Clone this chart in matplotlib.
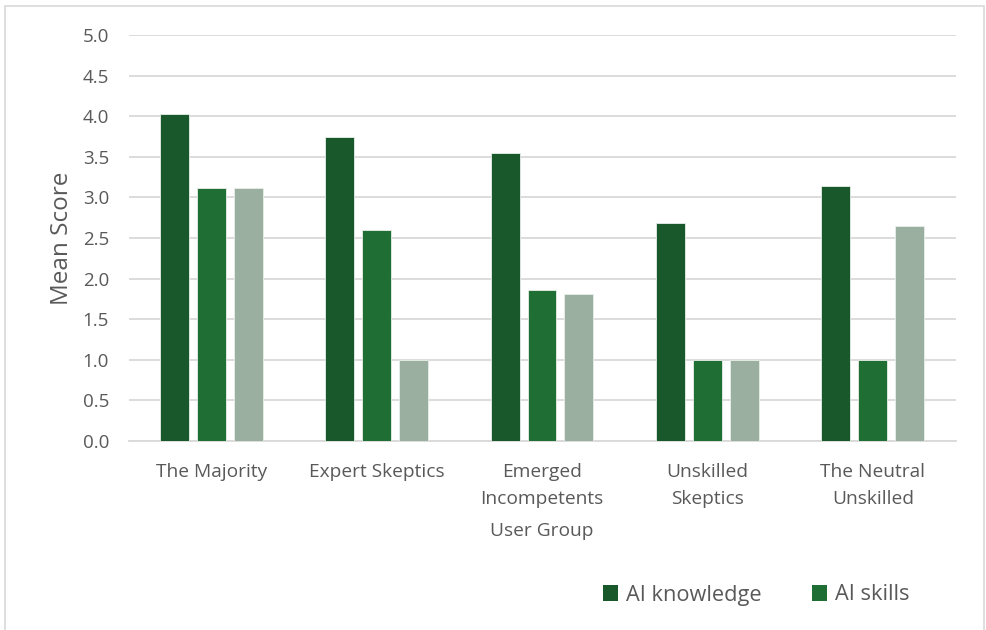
import matplotlib
matplotlib.use("Agg")
import matplotlib.pyplot as plt
import numpy as np
from matplotlib.patches import Rectangle, Patch

plt.rcParams['font.family'] = ['Open Sans', 'DejaVu Sans']

groups = ["The Majority", "Expert Skeptics", "Emerged\nIncompetents",
          "Unskilled\nSkeptics", "The Neutral\nUnskilled"]
ai_knowledge = [4.03, 3.74, 3.55, 2.69, 3.14]
ai_skills = [3.11, 2.60, 1.86, 1.00, 1.00]
series3 = [3.12, 1.00, 1.81, 1.00, 2.65]

colors = ["#18582A", "#1F6E34", "#9BAFA0"]
text_gray = "#595959"

fig = plt.figure(figsize=(9.86, 6.3), dpi=100)
ax = fig.add_axes([128.5 / 986, 1 - 441 / 630, 827 / 986, 406 / 630])

x = np.arange(len(groups))
w = 0.175
step = 0.223
for i, (vals, c) in enumerate(zip([ai_knowledge, ai_skills, series3], colors)):
    ax.bar(x + (i - 1) * step, vals, width=w, color=c, edgecolor="#e8efe9",
           linewidth=0.6, zorder=3)

ax.set_xlim(-0.5, len(groups) - 0.5)
ax.set_ylim(0, 5)
ax.set_yticks(np.arange(0, 5.01, 0.5))
ax.set_yticklabels([f"{v:.1f}" for v in np.arange(0, 5.01, 0.5)])
ax.set_xticks(x)
ax.set_xticklabels(groups, linespacing=1.62)
ax.grid(axis="y", color="#D9D9D9", linewidth=1.3, zorder=0)
for s in ["top", "right", "left"]:
    ax.spines[s].set_visible(False)
ax.spines["bottom"].set_color("#D9D9D9")
ax.spines["bottom"].set_linewidth(1.3)
ax.tick_params(axis="y", length=0, labelsize=13.5, colors=text_gray, pad=14)
ax.tick_params(axis="x", length=0, labelsize=13.8, colors=text_gray, pad=16)

ax.set_ylabel("Mean Score", fontsize=17.5, color=text_gray, labelpad=6)
ax.set_xlabel("User Group", fontsize=13.8, color=text_gray, labelpad=10)

handles = [Patch(facecolor=colors[0]), Patch(facecolor=colors[1])]
fig.legend(handles, ["AI knowledge", "AI skills"], loc="center left",
           bbox_to_anchor=(583 / 986, 1 - 595 / 630), ncol=2, frameon=False,
           handlelength=0.72, handleheight=0.72, handletextpad=0.35,
           columnspacing=2.3, fontsize=15.7, labelcolor=text_gray)

fig.patches.append(Rectangle((5 / 986, -0.05), 979 / 986, 1.05 - 6 / 630,
                             transform=fig.transFigure, fill=False,
                             edgecolor="#D9D9D9", linewidth=1.2))

fig.savefig("out.png", dpi=100)
